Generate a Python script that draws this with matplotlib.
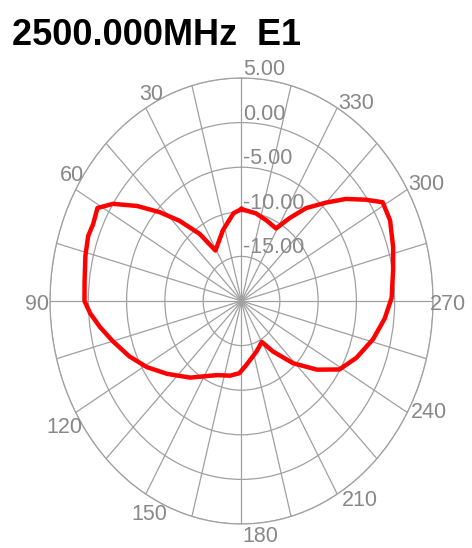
import numpy as np
import matplotlib
matplotlib.use("Agg")
import matplotlib.pyplot as plt
from matplotlib import font_manager

# ---- data ----
title_text = "2500.000MHz  E1"
angles_deg = [0, 6, 17, 31, 36, 42, 47, 52, 57, 61, 66, 70, 76, 84, 90, 94, 99,
              105, 113, 121, 130, 142, 159, 170, 178, 185, 199, 210, 216, 224,
              232, 239, 247, 256, 264, 271, 280, 287, 295, 301, 305, 310, 315,
              321, 326, 331, 340, 349, 360]
gain_db = [-9.7, -10.1, -11.7, -13.4, -10.7, -7.9, -5.4, -2.7, 0.0, 1.5, 1.2, 1.3,
           1.0, 0.6, 0.5, -0.2, -1.3, -2.6, -4.1, -5.6, -7.3, -9.1, -11.1, -11.5,
           -11.9, -12.8, -14.0, -14.7, -13.0, -10.3, -7.5, -5.1, -3.7, -2.3, -1.2,
           -0.4, 0.1, 0.7, 1.4, 1.5, -0.2, -2.2, -4.4, -6.6, -8.8, -10.7, -10.4,
           -10.0, -9.7]
r_ticks = [-15, -10, -5, 0, 5]
r_tick_labels = ["-15.00", "-10.00", "-5.00", "0.00", "5.00"]
r_min, r_max = -20, 5
theta_label_angles = [30, 60, 90, 120, 150, 180, 210, 240, 270, 300, 330]
theta_label_texts = ["30", "60", "90", "120", "150", "180", "210", "240", "270", "300", "330"]

# ---- style ----
names = {f.name for f in font_manager.fontManager.ttflist}
if "Liberation Sans Narrow" in names:
    fam = ["Liberation Sans Narrow", "DejaVu Sans"]
    title_size, tick_size = 30, 18
else:
    fam = ["Liberation Sans", "DejaVu Sans"]
    title_size, tick_size = 26, 15.5
grid_color = "#a0a0a0"
text_color = "#888888"
# label offsets in pixels (dx, dy) from outer ring point, to visual center
label_offsets = {30: (5, 17), 60: (-4, 17), 90: (-13, 0), 120: (-11, -11.5),
                 150: (4, -17), 180: (18.5, -8.5), 210: (23, -2.5), 240: (22, 4),
                 270: (15, 0), 300: (18.5, 8.5), 330: (18.5, 8)}

fig = plt.figure(figsize=(4.72, 5.48), dpi=100)
fig.patch.set_facecolor("white")
ax = fig.add_axes([50 / 472, 24 / 548, 383 / 472, 446 / 548], projection="polar")
ax.set_aspect("auto")
ax.set_theta_zero_location("N")
ax.set_theta_direction(1)
ax.set_rlim(r_min, r_max)
ax.set_thetagrids(np.arange(0, 360, 15), labels=[""] * 24)
ax.set_rgrids(r_ticks, labels=[""] * len(r_ticks))
ax.grid(True, color=grid_color, linewidth=0.9)
ax.spines["polar"].set_color(grid_color)
ax.spines["polar"].set_linewidth(0.9)
ax.tick_params(length=0)

th = np.deg2rad(np.array(angles_deg, dtype=float))
ax.plot(th, gain_db, color="red", linewidth=3.2, solid_joinstyle="round", zorder=5)

# radial labels along 0 deg
for r, lab in zip(r_ticks, r_tick_labels):
    ax.annotate(lab, xy=(0, r), xytext=(2, 3), textcoords="offset pixels",
                ha="left", va="baseline", color=text_color, fontsize=tick_size,
                family=fam, annotation_clip=False, zorder=6)

# angular labels
for a, lab in zip(theta_label_angles, theta_label_texts):
    dx, dy = label_offsets[a]
    ax.annotate(lab, xy=(np.deg2rad(a), r_max), xytext=(dx, dy - 9),
                textcoords="offset pixels", ha="center", va="baseline",
                color=text_color, fontsize=tick_size, family=fam,
                annotation_clip=False)

fig.text(12 / 472, 1 - 45 / 548, title_text, ha="left", va="baseline",
         fontsize=title_size, fontweight="bold", color="black", family=fam)

fig.savefig("out.png", dpi=100, facecolor="white")
